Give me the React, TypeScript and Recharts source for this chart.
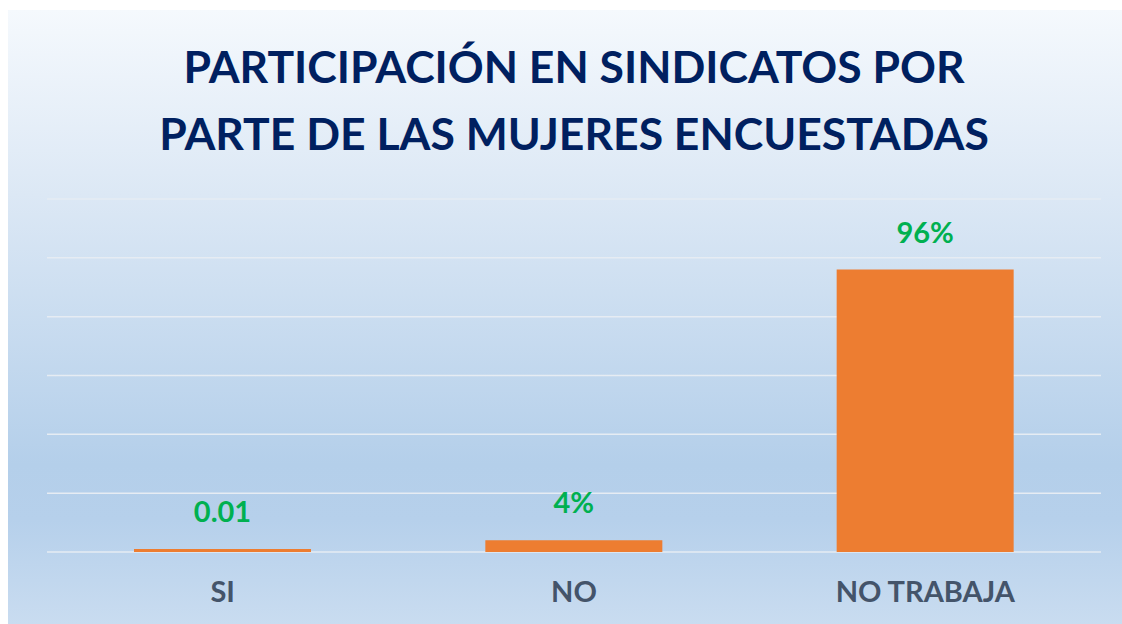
import { BarChart, Bar, XAxis, YAxis, CartesianGrid, LabelList } from 'recharts';

const categories = ['SI', 'NO', 'NO TRABAJA'];
const shares = [0.01, 0.04, 0.96];
const shareLabels = ['0.01', '4%', '96%'];
const yTicks = [0, 0.2, 0.4, 0.6, 0.8, 1.0, 1.2];

const data = categories.map((name, i) => ({ name, value: shares[i], label: shareLabels[i] }));

const W = 1114;
const H = 614;

export default function App() {
  return (
    <div
      style={{
        position: 'fixed',
        left: 8,
        top: 10,
        width: W,
        height: H,
        background: 'linear-gradient(180deg, #F5F9FD 0%, #DCE8F5 30%, #B4CFEA 74%, #B6D0EB 83%, #C9DCF0 100%)',
        fontFamily: 'Lato, "Open Sans", sans-serif',
      }}
    >
      <div
        style={{
          position: 'absolute',
          left: 39,
          width: 1054,
          top: 22,
          textAlign: 'center',
          color: '#002060',
          fontWeight: 700,
          fontSize: 44.5,
          lineHeight: '67px',
        }}
      >
        PARTICIPACIÓN EN SINDICATOS POR
        <br />
        PARTE DE LAS MUJERES ENCUESTADAS
      </div>
      <BarChart
        width={W}
        height={H}
        data={data}
        margin={{ top: 189, right: 21, left: 39, bottom: 32 }}
        style={{ position: 'absolute', left: 0, top: 0 }}
      >
        <CartesianGrid vertical={false} stroke="#E6ECF3" strokeWidth={1.5} />
        <YAxis hide domain={[0, 1.2]} ticks={yTicks} />
        <XAxis
          dataKey="name"
          axisLine={false}
          tickLine={false}
          tickSize={0}
          tickMargin={29}
          height={40}
          tick={{ fill: '#44546A', fontSize: 29, fontWeight: 700, fontFamily: 'Lato, sans-serif' }}
        />
        <Bar dataKey="value" fill="#ED7D31" barSize={177} isAnimationActive={false}>
          <LabelList
            dataKey="label"
            position="top"
            offset={27}
            fill="#00B050"
            fontSize={29}
            fontWeight={700}
            fontFamily="Lato, sans-serif"
          />
        </Bar>
      </BarChart>
    </div>
  );
}
